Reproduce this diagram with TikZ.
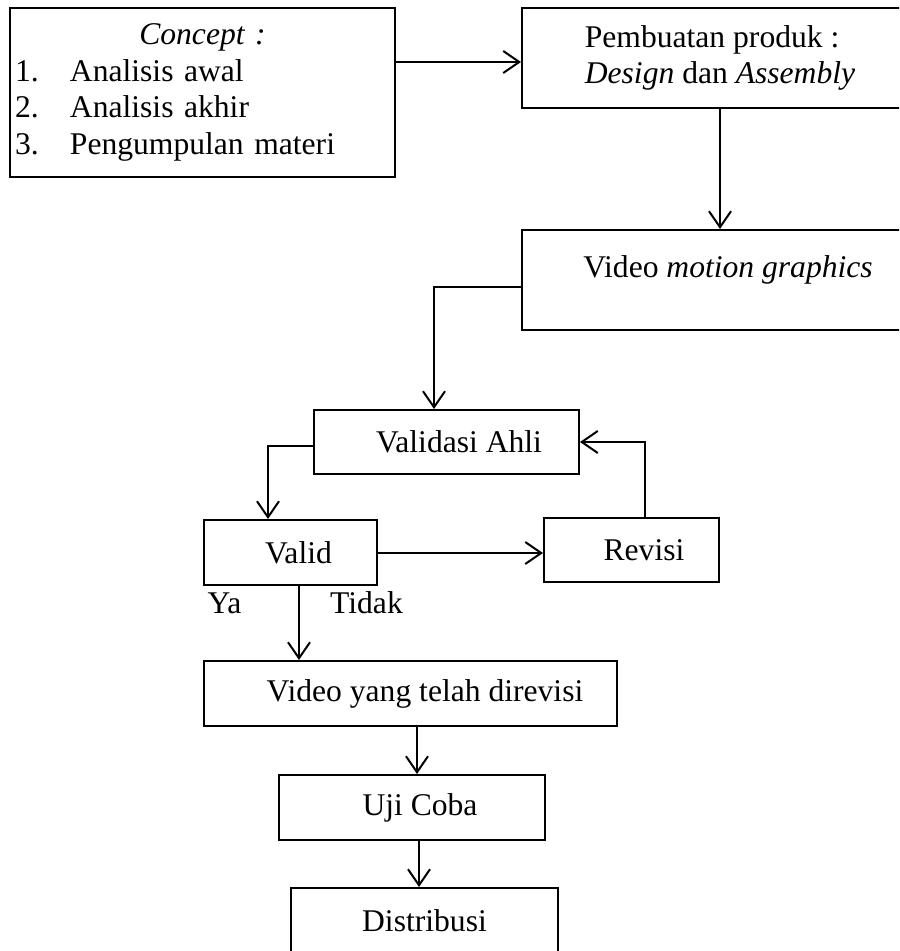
\documentclass[tikz,border=0pt]{standalone}
\usepackage{fontspec}
\setmainfont{Liberation Serif}
\usetikzlibrary{arrows.meta, calc}

\begin{document}
\begin{tikzpicture}[x=0.5pt, y=-0.5pt,
          box/.style={rectangle, draw, line width=1pt, inner sep=2.5pt,
                      font=\fontsize{15.8}{18.2}\selectfont},
          arr/.style={-{Straight Barb[length=8pt,width=11pt]}, line width=1pt},
          lbl/.style={font=\fontsize{15.8}{18.2}\selectfont, anchor=base}
        ]
        \useasboundingbox (0,0) rectangle (899,951);
        \clip (0,0) rectangle (899,951);

        % Concept
        \node[box, minimum width=192.5pt, minimum height=84.5pt,
              text width=187.5pt, align=left]
              (cpt) at (202.5,92.5)
              {\makebox[187.5pt]{\textit{Concept :}}\\
               \makebox[27.5pt][l]{1.}Analisis awal\\
               \makebox[27.5pt][l]{2.}Analisis akhir\\
               \makebox[27.5pt][l]{3.}Pengumpulan materi};

        % Pembuatan produk
        \node[box, minimum width=198pt, minimum height=50pt, align=left]
              (pemb) at (720,58)
              {Pembuatan produk :\\\textit{Design} dan \textit{Assembly}};
        \draw[arr] ($(cpt.east |- pemb.west)+(0,4)$) -- ($(pemb.west)+(0,4)$);

        % Video motion graphics
        \node[box, minimum width=198pt, minimum height=50pt, text depth=13pt]
              (vid) at (720,280) {\hspace{8pt}Video \textit{motion graphics}};
        \draw[arr] (pemb) -- (vid);

        % Validasi
        \node[box, minimum width=132.5pt, minimum height=32pt]
              (vahli) at (446.5,442) {\hspace{12.5pt}Validasi Ahli};
        \draw[arr] ($(vid.west)+(0,7)$) -| ($(vahli.north)+(-12.5,0)$);

        \node[box, minimum width=86.5pt, minimum height=32.5pt]
              (valid) at (290.5,552.5) {\hspace{8pt}Valid};
        \node[box, minimum width=87.5pt, minimum height=32pt]
              (rev) at (631.5,550) {\hspace{12.5pt}Revisi};

        \draw[arr] ($(vahli.west)+(0,4)$) -| ($(valid.north)+(-22.5,0)$);
        \draw[arr] ($(valid.east)+(0,0.5)$) -- ($(valid.east -| rev.west)+(0,0.5)$);
        \draw[arr] ($(rev.north)+(13.5,0)$) |- (vahli.east);

        \node[lbl] (ya) at (224.5,613) {Ya};
        \node[lbl] (tdk) at (366.5,613) {Tidak};

        % Hasil
        \node[box, minimum width=206.5pt, minimum height=32.5pt]
              (vrev) at (410.5,693.5) {\hspace{14.5pt}Video yang telah direvisi};
        \draw[arr] ($(valid.south)+(8.5,0)$) coordinate (vb) -- (vb |- vrev.north);

        \node[box, minimum width=133pt, minimum height=32.5pt]
              (uji) at (412,807.5) {\hspace{8pt}Uji Coba};
        \draw[arr] ($(uji.north |- vrev.south)+(5,0)$) -- ($(uji.north)+(5,0)$);

        \node[box, minimum width=133.5pt, minimum height=32.5pt]
              (dist) at (424.5,920.5) {Distribusi};
        \draw[arr] ($(dist.north |- uji.south)+(-5.5,0)$) -- ($(dist.north)+(-5.5,0)$);
      \end{tikzpicture}
\end{document}
